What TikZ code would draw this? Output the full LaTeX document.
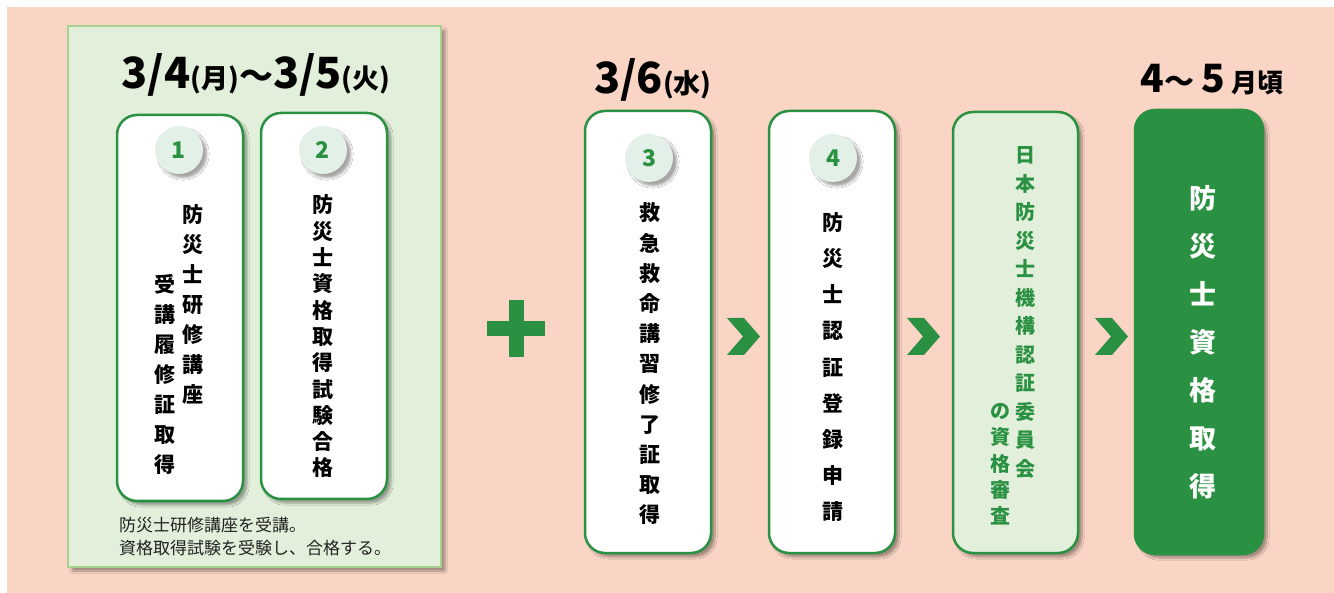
\documentclass[tikz,border=0pt]{standalone}
\usepackage{fontspec}
\setmainfont{Noto Sans CJK JP}
\usetikzlibrary{shadows.blur}
\definecolor{peach}{HTML}{FAD4C4}
\definecolor{grn}{HTML}{2B9142}
\definecolor{panelg}{HTML}{E2EFDA}
\definecolor{panelb}{HTML}{A9D18E}
\definecolor{circg}{HTML}{E3F0E7}
\definecolor{captc}{HTML}{222222}
\newcommand{\fs}[2]{\fontsize{#1}{#2}\selectfont}
\begin{document}
\begin{tikzpicture}[x=1pt,y=-1pt,
  shad/.style={blur shadow={shadow xshift=4pt, shadow yshift=-4pt, shadow blur steps=6, shadow opacity=35}},
  stepbox/.style={draw=grn, line width=2.5pt, fill=white, rounded corners=20pt, inner sep=0pt, shad},
  lightbox/.style={stepbox, fill=panelg},
  darkbox/.style={stepbox, fill=grn},
  numcirc/.style={circle, fill=circg, minimum size=48pt, inner sep=0pt, text=grn, font=\fs{23}{23}\bfseries, shad},
  vtext/.style={align=center, inner sep=0pt, font=\bfseries},
  title/.style={anchor=base, inner sep=0pt, font=\bfseries},
]
\useasboundingbox (0,0) rectangle (1334,593);
\fill[white] (0,0) rectangle (1334,593);
\fill[peach] (7,7) rectangle (1334,593);

% left panel
\node[draw=panelb, line width=1.5pt, fill=panelg, minimum width=373pt, minimum height=541pt, inner sep=0pt, shad] (panel) at (254.5,296.5) {};
\node[title] (t1) at (256,89) {\fs{43}{43}3/4\fs{27}{27}(月)\fs{34}{34}〜\fs{43}{43}3/5\fs{27}{27}(火)};

% boxes
\node[stepbox, minimum width=126pt, minimum height=386pt] (b1) at (180,308) {};
\node[stepbox, minimum width=126pt, minimum height=386pt] (b2) at (324,306) {};
\node[stepbox, minimum width=126pt, minimum height=442pt] (b3) at (648,332) {};
\node[stepbox, minimum width=126pt, minimum height=442pt] (b4) at (832,332) {};
\node[lightbox, minimum width=125pt, minimum height=441pt] (b5) at (1015.5,332.5) {};
\node[darkbox, minimum width=128pt, minimum height=444pt] (b6) at (1199,332) {};

% number circles
\node[numcirc] (c1) at (179,150) {1};
\node[numcirc] (c2) at (323,150) {2};
\node[numcirc] (c3) at (649,158) {3};
\node[numcirc] (c4) at (833,158) {4};

% box texts
\node[vtext, font=\fs{21}{30}\bfseries] (v1a) at (193,304) {防\\災\\士\\研\\修\\講\\座};
\node[vtext, font=\fs{21}{30}\bfseries] (v1b) at (165,374) {受\\講\\履\\修\\証\\取\\得};
\node[vtext, font=\fs{21}{26.3}\bfseries] (v2) at (323,336.5) {防\\災\\士\\資\\格\\取\\得\\試\\験\\合\\格};
\node[vtext, font=\fs{21}{30.2}\bfseries] (v3) at (650,364) {救\\急\\救\\命\\講\\習\\修\\了\\証\\取\\得};
\node[vtext, font=\fs{21}{36.2}\bfseries] (v4) at (833,367) {防\\災\\士\\認\\証\\登\\録\\申\\請};
\node[vtext, text=grn, font=\fs{20}{28.5}\bfseries] (v5a) at (1025,312.5) {日\\本\\防\\災\\士\\機\\構\\認\\証\\委\\員\\会};
\node[vtext, text=grn, font=\fs{20}{26.3}\bfseries] (v5b) at (1000,464.5) {の\\資\\格\\審\\査};
\node[vtext, text=white, font=\fs{27}{48}\bfseries] (v6) at (1203,342) {防\\災\\士\\資\\格\\取\\得};

% caption
\node[anchor=west, align=left, inner sep=0pt, text=captc, font=\fs{17}{23}] (cap) at (119,536.5) {防災士研修講座を受講。\\資格取得試験を受験し、合格する。};

% titles
\node[title] (t2) at (653,94) {\fs{43}{43}3/6\fs{27}{27}(水)};
\node[title] (t3) at (1212,93) {\fs{39}{39}4\fs{30}{30}〜\fs{39}{39}\,5\,\fs{26}{26}月頃};

% plus
\fill[grn] (487,321) rectangle (545,336);
\fill[grn] (508.5,300) rectangle (523.5,357);

% chevrons
\foreach \cx in {727, 907, 1095}{
  \fill[grn] (\cx,318) -- (\cx+17,318) -- (\cx+33,336.5) -- (\cx+17,355) -- (\cx,355) -- (\cx+16,336.5) -- cycle;
}
\end{tikzpicture}
\end{document}
